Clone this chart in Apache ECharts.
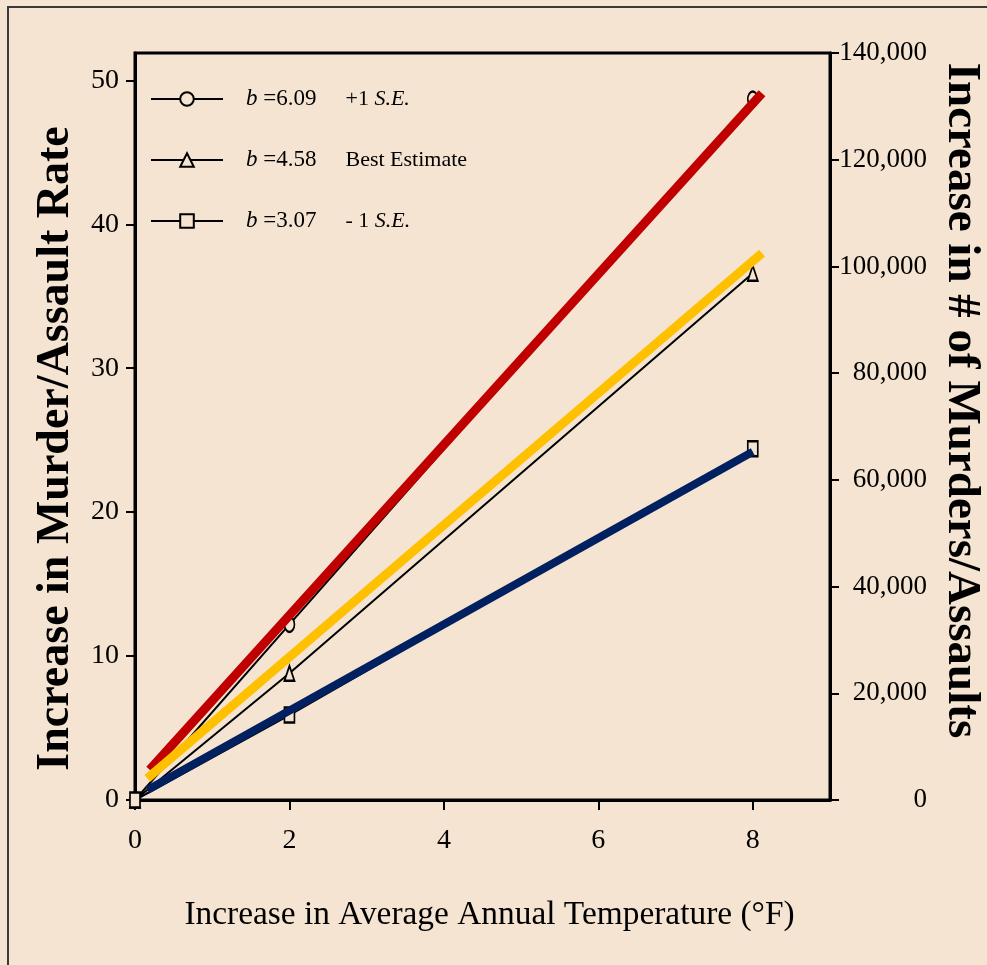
<!DOCTYPE html>
<html>
<head>
<meta charset="utf-8">
<script src="https://cdn.jsdelivr.net/npm/echarts@6/dist/echarts.min.js"></script>
<style>
html,body{margin:0;padding:0;background:#f4e4d1;}
#chart{width:987px;height:965px;}
</style>
</head>
<body>
<div id="chart"></div>
<script>
// ---- data ----
var xTicks = [0, 2, 4, 6, 8];
var leftTicks = [0, 10, 20, 30, 40, 50];
var rightTicks = [0, 20000, 40000, 60000, 80000, 100000, 120000, 140000];

var seriesNames = ['plusSE', 'best', 'minusSE'];
var slopeLabels = ['6.09', '4.58', '3.07'];
var bandPrefix = ['+1 ', 'Best Estimate', '- 1 '];
var bandItalic = ['S.E.', '', 'S.E.'];

var plusSE = [[0, 0], [2, 12.2], [8, 48.7]];
var best = [[0, 0], [2, 8.8], [8, 36.6]];
var minusSE = [[0, 0], [2, 5.9], [8, 24.4]];

var redHighlight = [[0.19, 2.1], [8.12, 49.1]];
var yellowHighlight = [[0.16, 1.5], [8.12, 38.0]];
var navyHighlight = [[0.16, 0.7], [8.0, 24.2]];

// ---- chart ----
var BG = '#f4e4d1';
var FONT = 'Liberation Serif';
var chart = echarts.init(document.getElementById('chart'), null, {renderer: 'canvas'});

function markerSeries(name, data, symbol) {
  return {
    name: name, type: 'line', data: data, symbol: symbol, symbolSize: [10, 15],
    yAxisIndex: 0, z: 2,
    lineStyle: {color: '#000', width: 2},
    itemStyle: {color: BG, borderColor: '#000', borderWidth: 2},
    emphasis: {disabled: true}
  };
}
function highlightSeries(data, color, width) {
  return {
    type: 'line', data: data, symbol: 'none', yAxisIndex: 0, z: 5,
    lineStyle: {color: color, width: width, cap: 'butt'},
    emphasis: {disabled: true}
  };
}

var option = {
  backgroundColor: BG,
  animation: false,
  textStyle: {fontFamily: FONT, color: '#000'},
  grid: {left: 135, right: 157, top: 53, bottom: 165, show: true, borderColor: '#000', borderWidth: 3, containLabel: false, outerBoundsMode: 'none'},
  graphic: [{
    type: 'rect', shape: {x: 8, y: 7, width: 1000, height: 1000},
    style: {fill: 'none', stroke: '#3a3a3a', lineWidth: 2}, silent: true
  }],
  legend: {
    orient: 'vertical', left: 145, top: 81,
    data: seriesNames,
    itemWidth: 72, itemHeight: 17, itemGap: 35,
    selectedMode: false,
    formatter: function (name) {
      var i = seriesNames.indexOf(name);
      var s = '{g| }{b|b}{v| =' + slopeLabels[i] + '}{t|' + bandPrefix[i] + '}';
      if (bandItalic[i]) s += '{i|' + bandItalic[i] + '}';
      return s;
    },
    textStyle: {
      fontFamily: FONT, fontSize: 22, color: '#000', lineHeight: 26,
      rich: {
        g: {fontFamily: FONT, fontSize: 22, width: 18, lineHeight: 26},
        b: {fontFamily: FONT, fontSize: 23, fontStyle: 'italic', color: '#000', lineHeight: 26},
        v: {fontFamily: FONT, fontSize: 23, color: '#000', width: 88, lineHeight: 26},
        t: {fontFamily: FONT, fontSize: 22, color: '#000', lineHeight: 26},
        i: {fontFamily: FONT, fontSize: 22, fontStyle: 'italic', color: '#000', lineHeight: 26}
      }
    }
  },
  xAxis: {
    type: 'value', min: 0, max: 9, interval: 2,
    name: 'Increase in Average Annual Temperature (°F)',
    nameLocation: 'middle', nameGap: 115,
    nameTextStyle: {fontFamily: FONT, fontSize: 33.4, color: '#000', verticalAlign: 'middle', padding: [0, 0, 0, 14]},
    axisLine: {show: true, onZero: false, lineStyle: {color: '#000', width: 3}},
    axisTick: {show: true, length: 10, inside: false, customValues: xTicks, lineStyle: {color: '#000', width: 2}},
    axisLabel: {customValues: xTicks, margin: 27, fontFamily: FONT, fontSize: 28, color: '#000',
      formatter: function (v) { return xTicks.indexOf(v) >= 0 ? String(v) : ''; }},
    splitLine: {show: false}
  },
  yAxis: [{
    type: 'value', min: 0, max: 51.9, interval: 10, position: 'left',
    name: 'Increase in Murder/Assault Rate',
    nameLocation: 'middle', nameGap: 79, nameRotate: 90,
    nameTextStyle: {fontFamily: FONT, fontSize: 46, fontWeight: 'bold', color: '#000', verticalAlign: 'middle', padding: [0, 44, 0, 0]},
    axisLine: {show: true, onZero: false, lineStyle: {color: '#000', width: 3}},
    axisTick: {show: true, length: 9, inside: false, customValues: leftTicks, lineStyle: {color: '#000', width: 2}},
    axisLabel: {customValues: leftTicks, margin: 16, fontFamily: FONT, fontSize: 28, color: '#000',
      formatter: function (v) { return leftTicks.indexOf(v) >= 0 ? String(v) : ''; }},
    splitLine: {show: false}
  }, {
    type: 'value', min: 0, max: 140000, interval: 20000, position: 'right',
    name: 'Increase in # of Murders/Assaults',
    nameLocation: 'middle', nameGap: 118, nameRotate: -90,
    nameTextStyle: {fontFamily: FONT, fontSize: 47, fontWeight: 'bold', color: '#000', verticalAlign: 'middle', padding: [0, 52, 0, 0]},
    axisLine: {show: true, onZero: false, lineStyle: {color: '#000', width: 3}},
    axisTick: {show: true, length: 9, inside: false, lineStyle: {color: '#000', width: 2}},
    axisLabel: {margin: 97, align: 'right', fontFamily: FONT, fontSize: 27, color: '#000',
      formatter: function (v) { return rightTicks.indexOf(v) >= 0 ? v.toLocaleString('en-US') : ''; }},
    splitLine: {show: false}
  }],
  series: [
    markerSeries('plusSE', plusSE, 'circle'),
    markerSeries('best', best, 'triangle'),
    markerSeries('minusSE', minusSE, 'rect'),
    highlightSeries(redHighlight, '#c00000', 9),
    highlightSeries(yellowHighlight, '#ffc000', 9),
    highlightSeries(navyHighlight, '#002060', 8)
  ]
};
chart.setOption(option);
</script>
</body>
</html>
